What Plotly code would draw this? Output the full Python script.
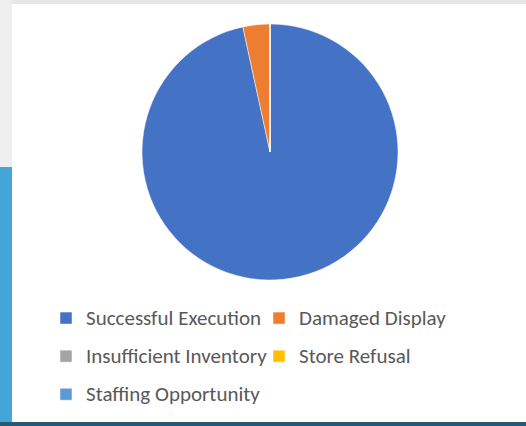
import plotly.graph_objects as go

categories = ["Successful Execution", "Damaged Display", "Insufficient Inventory", "Store Refusal", "Staffing Opportunity"]
values = [96.6, 3.4, 0, 0, 0]
colors = ["#4472C4", "#ED7D31", "#A5A5A5", "#FFC000", "#5B9BD5"]

W, H = 526, 426

# legend rows in the reference are widely spaced; a larger legend font sets the row
# height while the visible label text is set at its own size
labels = ['<span style="font-size:21px;baseline-shift:4px">%s</span>' % c for c in categories]

fig = go.Figure(go.Pie(
    labels=labels,
    values=values,
    marker=dict(colors=colors, line=dict(color="white", width=0.5)),
    sort=False,
    direction="clockwise",
    rotation=0,
    textinfo="none",
    hoverinfo="label+percent",
    domain=dict(x=[142 / W, 398 / W], y=[1 - 280 / H, 1 - 24 / H]),
))

shapes = [
    dict(type="rect", xref="paper", yref="paper", x0=0, x1=1, y0=1 - 4 / H, y1=1,
         fillcolor="#e6e6e6", line_width=0, layer="below"),
    dict(type="rect", xref="paper", yref="paper", x0=0, x1=12 / W, y0=1 - 167 / H, y1=1,
         fillcolor="#efefef", line_width=0, layer="below"),
    dict(type="rect", xref="paper", yref="paper", x0=0, x1=12 / W, y0=0, y1=1 - 167 / H,
         fillcolor="#44a6d6", line_width=0, layer="below"),
    dict(type="rect", xref="paper", yref="paper", x0=0, x1=1, y0=0, y1=4 / H,
         fillcolor="#235a78", line_width=0, layer="below"),
]

fig.update_layout(
    width=W, height=H,
    margin=dict(l=0, r=0, t=0, b=0),
    paper_bgcolor="white",
    plot_bgcolor="white",
    shapes=shapes,
    showlegend=True,
    legend=dict(
        orientation="h",
        x=46 / W, xanchor="left",
        y=1 - 294 / H, yanchor="top",
        entrywidth=168,
        entrywidthmode="pixels",
        font=dict(family="Carlito, Calibri, Lato, sans-serif", size=27, color="#595959"),
        itemwidth=30,
        bgcolor="rgba(0,0,0,0)",
        traceorder="normal",
    ),
)

fig.write_html("out.html", config={"displayModeBar": False},
               post_script="document.body.style.margin='0';")
